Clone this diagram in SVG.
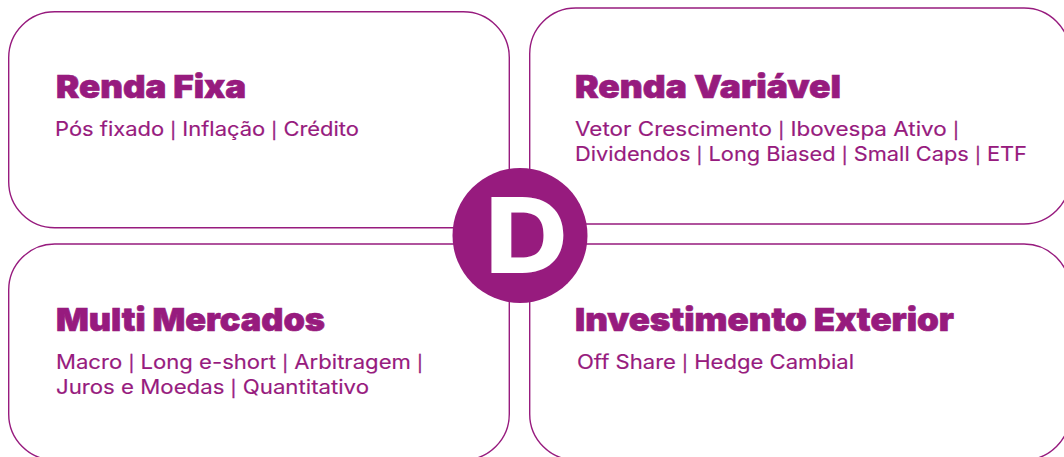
<svg xmlns="http://www.w3.org/2000/svg" width="1064" height="457" viewBox="0 0 1064 457">
<style>
.box{fill:#fff;stroke:#971b7e;stroke-width:1.4}
.h{font-family:Inter,"Liberation Sans",sans-serif;font-weight:900;font-size:32px;fill:#971b7e;stroke:#971b7e;stroke-width:.7px}
.b{font-family:Inter,"Liberation Sans",sans-serif;font-weight:400;font-size:20px;fill:#971b7e;stroke:#971b7e;stroke-width:.15px}
.p{font-size:16px;stroke-width:.4px}
</style>
<rect width="1064" height="457" fill="#fff"/>
<g id="node-renda-fixa">
<rect class="box" x="8.7" y="11.7" width="500.6" height="216" rx="46"/>
<text class="h" x="56" y="98" textLength="190" lengthAdjust="spacingAndGlyphs">Renda Fixa</text>
<text class="b" x="55" y="136" textLength="304" lengthAdjust="spacingAndGlyphs">Pós fixado <tspan class="p">|</tspan> Inflação <tspan class="p">|</tspan> Crédito</text>
</g>
<g id="node-renda-variavel">
<rect class="box" x="529.7" y="8" width="540.3" height="216" rx="46"/>
<text class="h" x="575" y="98" textLength="266" lengthAdjust="spacingAndGlyphs">Renda Variável</text>
<text class="b" x="575" y="136" textLength="384" lengthAdjust="spacingAndGlyphs">Vetor Crescimento <tspan class="p">|</tspan> Ibovespa Ativo <tspan class="p">|</tspan></text>
<text class="b" x="575" y="161" textLength="452" lengthAdjust="spacingAndGlyphs">Dividendos <tspan class="p">|</tspan> Long Biased <tspan class="p">|</tspan> Small Caps <tspan class="p">|</tspan> ETF</text>
</g>
<g id="node-multi-mercados">
<rect class="box" x="8.7" y="244" width="500.6" height="216" rx="46"/>
<text class="h" x="56" y="331" textLength="269" lengthAdjust="spacingAndGlyphs">Multi Mercados</text>
<text class="b" x="56" y="369" textLength="367" lengthAdjust="spacingAndGlyphs">Macro <tspan class="p">|</tspan> Long e-short <tspan class="p">|</tspan> Arbitragem <tspan class="p">|</tspan></text>
<text class="b" x="56" y="394" textLength="313" lengthAdjust="spacingAndGlyphs">Juros e Moedas <tspan class="p">|</tspan> Quantitativo</text>
</g>
<g id="node-investimento-exterior">
<rect class="box" x="529.7" y="244" width="540.3" height="216" rx="46"/>
<text class="h" x="575" y="331" textLength="379" lengthAdjust="spacingAndGlyphs">Investimento Exterior</text>
<text class="b" x="577" y="369" textLength="277" lengthAdjust="spacingAndGlyphs">Off Share <tspan class="p">|</tspan> Hedge Cambial</text>
</g>
<g id="connectors"></g>
<g id="node-center">
<circle cx="520" cy="235.5" r="67.5" fill="#971b7e"/>
<text x="485" y="273" font-family="Inter,'Liberation Sans',sans-serif" font-weight="800" font-size="105" fill="#fff" textLength="83" lengthAdjust="spacingAndGlyphs">D</text>
</g>
</svg>
